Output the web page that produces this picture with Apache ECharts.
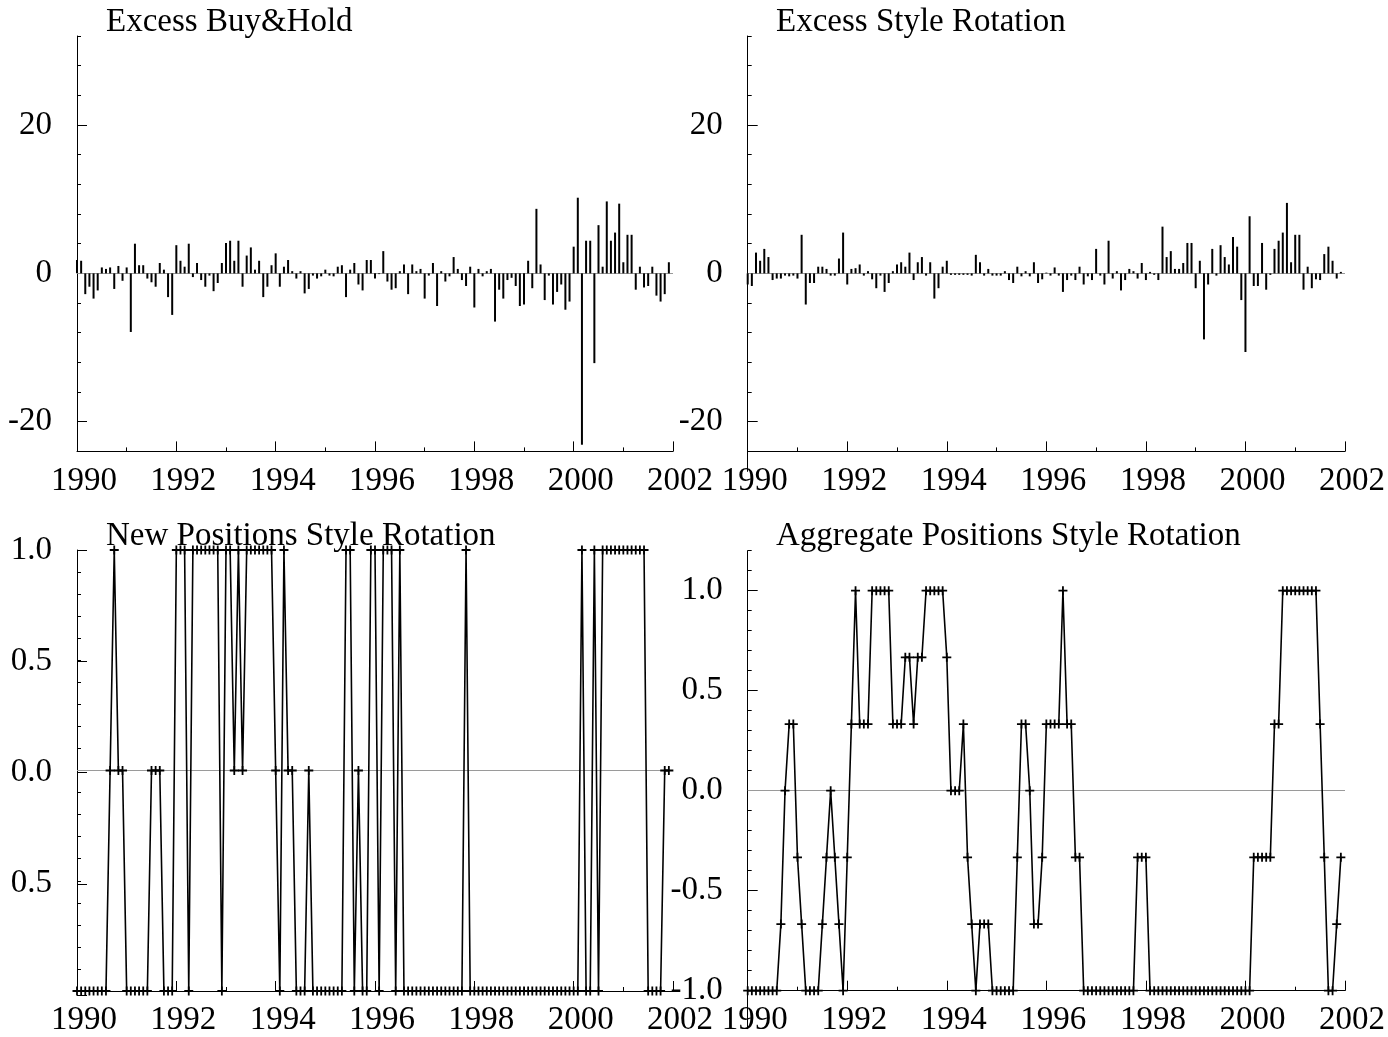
<!DOCTYPE html>
<html>
<head>
<meta charset="utf-8">
<script src="https://cdn.jsdelivr.net/npm/echarts@6/dist/echarts.min.js"></script>
<style>html,body{margin:0;padding:0;background:#fff}#c{width:1388px;height:1037px}</style>
</head>
<body>
<div id="c"></div>
<script>
// ---------------- data (monthly, Jan 1990 .. Dec 2001) ----------------
const startYear = 1990;
const titles = ['Excess Buy&Hold', 'Excess Style Rotation', 'New Positions Style Rotation', 'Aggregate Positions Style Rotation'];
const xTickLabels = ['1990', '1992', '1994', '1996', '1998', '2000', '2002'];
const topYTickLabels = ['-20', '0', '20'];
const newYTickLabels = ['', '0.5', '0.0', '0.5', '1.0'];
const aggYTickLabels = ['-1.0', '-0.5', '0.0', '0.5', '1.0'];

const excessBuyHold = [
  1.8, 1.7, -2.8, -1.8, -3.4, -2.3, 0.8, 0.6, 0.8, -2.1,
  1.0, -1.0, 0.8, -7.9, 4.0, 1.1, 1.1, -0.7, -1.2, -1.8,
  1.4, 0.5, -3.2, -5.6, 3.8, 1.7, 0.9, 4.0, -0.5, 1.4,
  -0.9, -1.8, -0.3, -2.4, -1.3, 1.4, 4.1, 4.4, 1.7, 4.4,
  -1.8, 2.4, 3.5, 0.5, 1.7, -3.2, -1.8, 1.1, 2.7, -1.8,
  0.9, 1.8, 0.3, -0.7, 0.3, -2.7, -2.1, -0.3, -0.7, -0.4,
  0.5, -0.3, -0.4, 0.9, 1.1, -3.2, 0.5, 1.4, -1.5, -2.3,
  1.8, 1.8, -0.7, -0.1, 3.0, -1.1, -2.2, -2.0, 0.3, 1.2,
  -2.8, 1.2, 0.3, 0.6, -3.4, -0.3, 1.4, -4.4, 0.3, -1.1,
  -0.4, 2.2, 0.6, -0.9, -1.7, 0.9, -4.6, 0.6, -0.4, 0.3,
  0.6, -6.5, -2.2, -3.4, -0.9, -0.6, -1.7, -4.4, -4.2, 1.7,
  -2.0, 8.7, 1.2, -3.6, -0.3, -4.2, -2.5, -1.5, -4.9, -3.8,
  3.6, 10.2, -23.1, 4.4, 4.4, -12.1, 6.5, 0.9, 9.7, 4.4,
  5.5, 9.4, 1.5, 5.2, 5.2, -2.2, 0.9, -1.9, -1.7, 0.9,
  -3.0, -3.8, -2.8, 1.5
];

const excessStyleRotation = [
  -1.5, -1.7, 2.8, 1.7, 3.3, 2.2, -0.9, -0.7, -0.7, -0.3,
  -0.4, -0.3, -0.7, 5.2, -4.2, -1.3, -1.3, 0.9, 0.9, 0.6,
  -0.3, -0.3, 2.0, 5.5, -1.5, 0.6, 0.7, 1.2, -0.3, 0.3,
  -0.8, -2.0, -0.3, -2.5, -1.3, 0.3, 1.2, 1.5, 0.9, 2.8,
  -0.9, 1.5, 2.2, -0.3, 1.5, -3.4, -2.0, 0.9, 1.7, -0.2,
  -0.2, -0.2, -0.2, -0.2, -0.3, 2.5, 1.5, -0.3, 0.6, -0.3,
  -0.3, -0.3, 0.3, -0.9, -1.3, 0.9, -0.4, 0.3, -0.4, 1.5,
  -1.3, -0.8, 0.1, -0.3, 0.8, -0.3, -2.5, -0.9, -0.3, -0.9,
  0.9, -1.5, -0.4, -0.9, 3.3, -0.3, -1.5, 4.4, -0.7, 0.3,
  -2.3, -0.9, 0.6, 0.3, -0.7, 1.4, -0.9, 0.2, -0.2, -0.9,
  6.3, 2.2, 3.0, 0.6, 0.6, 1.4, 4.1, 4.1, -2.0, 1.7,
  -8.9, -1.5, 3.3, -0.3, 3.8, 2.2, 1.2, 4.9, 3.6, -3.6,
  -10.6, 7.7, -1.7, -1.7, 4.1, -2.2, -0.2, 3.3, 4.4, 5.5,
  9.5, 1.5, 5.2, 5.2, -2.2, 0.9, -2.0, -0.8, -0.9, 2.6,
  3.6, 1.7, -0.7, 0.2
];

const newPositions = [
  -1, -1, -1, -1, -1, -1, -1, -1, 0, 1,
  0, 0, -1, -1, -1, -1, -1, -1, 0, 0,
  0, -1, -1, -1, 1, 1, 1, -1, 1, 1,
  1, 1, 1, 1, 1, -1, 1, 1, 0, 1,
  0, 1, 1, 1, 1, 1, 1, 1, 0, -1,
  1, 0, 0, -1, -1, -1, 0, -1, -1, -1,
  -1, -1, -1, -1, -1, 1, 1, -1, 0, -1,
  -1, 1, 1, -1, 1, 1, 1, -1, 1, -1,
  -1, -1, -1, -1, -1, -1, -1, -1, -1, -1,
  -1, -1, -1, -1, 1, -1, -1, -1, -1, -1,
  -1, -1, -1, -1, -1, -1, -1, -1, -1, -1,
  -1, -1, -1, -1, -1, -1, -1, -1, -1, -1,
  -1, -1, 1, -1, -1, 1, -1, 1, 1, 1,
  1, 1, 1, 1, 1, 1, 1, 1, -1, -1,
  -1, -1, 0, 0
];

const aggregatePositions = [
  -1, -1, -1, -1, -1, -1, -1, -1, -0.667, 0,
  0.333, 0.333, -0.333, -0.667, -1, -1, -1, -1, -0.667, -0.333,
  0, -0.333, -0.667, -1, -0.333, 0.333, 1, 0.333, 0.333, 0.333,
  1, 1, 1, 1, 1, 0.333, 0.333, 0.333, 0.667, 0.667,
  0.333, 0.667, 0.667, 1, 1, 1, 1, 1, 0.667, 0,
  0, 0, 0.333, -0.333, -0.667, -1, -0.667, -0.667, -0.667, -1,
  -1, -1, -1, -1, -1, -0.333, 0.333, 0.333, 0, -0.667,
  -0.667, -0.333, 0.333, 0.333, 0.333, 0.333, 1, 0.333, 0.333, -0.333,
  -0.333, -1, -1, -1, -1, -1, -1, -1, -1, -1,
  -1, -1, -1, -1, -0.333, -0.333, -0.333, -1, -1, -1,
  -1, -1, -1, -1, -1, -1, -1, -1, -1, -1,
  -1, -1, -1, -1, -1, -1, -1, -1, -1, -1,
  -1, -1, -0.333, -0.333, -0.333, -0.333, -0.333, 0.333, 0.333, 1,
  1, 1, 1, 1, 1, 1, 1, 1, 0.333, -0.333,
  -1, -1, -0.667, -0.333
];

// ---------------- styling / layout ----------------
const FONT = 'Liberation Serif';
const FS = 33;
const BLACK = '#000';
const ZERO_GRAY = '#9a9a9a';
const PLUS = 'path://M4,0H6V4H10V6H6V10H4V6H0V4H4Z';

const panels = [
  { left: 77,    top: 36,    width: 596, height: 415.4, min: -24, max: 32,  minorStep: 4,   majMin: -20, majMax: 20, majStep: 20,  labels: topYTickLabels, ext: 0,  titleLeft: 106, titleTop: 6 },
  { left: 747.7, top: 36,    width: 599, height: 415.4, min: -24, max: 32,  minorStep: 4,   majMin: -20, majMax: 20, majStep: 20,  labels: topYTickLabels, ext: 20, titleLeft: 776, titleTop: 6 },
  { left: 77,    top: 550,   width: 596, height: 445,   min: -1,  max: 1,   minorStep: 0.1, majMin: -1,  majMax: 1,  majStep: 0.5, labels: newYTickLabels, ext: 0,  titleLeft: 106, titleTop: 520 },
  { left: 747.7, top: 550.7, width: 599, height: 440,   min: -1,  max: 1.2, minorStep: 0.1, majMin: -1,  majMax: 1,  majStep: 0.5, labels: aggYTickLabels, ext: 38, titleLeft: 776, titleTop: 520 }
];
const seriesData = [excessBuyHold, excessStyleRotation, newPositions, aggregatePositions];
const seriesKind = ['bar', 'bar', 'line', 'line'];

const toPairs = arr => arr.map((v, m) => [startYear + m / 12, v]);

const grid = [], xAxis = [], yAxis = [], series = [], title = [];
const lineSt = { color: BLACK, width: 1 };

function hiddenX(gi) {
  return { type: 'value', gridIndex: gi, min: 0, max: 1, show: false };
}

panels.forEach((p, i) => {
  const span = p.max - p.min;
  const yPix = v => p.top + (p.max - v) / span * p.height;

  // main grid: data, x axis, minor y ticks
  const gMain = grid.length;
  grid.push({ left: p.left, top: p.top, width: p.width, height: p.height });
  xAxis.push({
    type: 'value', gridIndex: gMain, min: 1990, max: 2002, interval: 2,
    axisLine: { show: true, onZero: false, lineStyle: lineSt },
    axisTick: { show: true, inside: true, length: 10, lineStyle: lineSt },
    minorTick: { show: true, splitNumber: 2, length: 4, lineStyle: lineSt },
    axisLabel: {
      show: true, fontFamily: FONT, fontSize: FS, color: BLACK, margin: 13,
      padding: [0, 0, 0, 14],
      formatter: v => xTickLabels[Math.round((v - 1990) / 2)] || ''
    },
    splitLine: { show: false }, minorSplitLine: { show: false }
  });
  yAxis.push({
    type: 'value', gridIndex: gMain, min: p.min, max: p.max, interval: p.minorStep,
    axisLine: { show: p.ext === 0, onZero: false, lineStyle: lineSt },
    axisTick: { show: true, inside: true, length: 4, lineStyle: lineSt },
    axisLabel: { show: false },
    splitLine: { show: false }
  });

  // overlay grid: major ticks + labels
  const gMaj = grid.length;
  const t = yPix(p.majMax), b = yPix(p.majMin);
  grid.push({ left: p.left, top: t, width: p.width, height: b - t });
  xAxis.push(hiddenX(gMaj));
  yAxis.push({
    type: 'value', gridIndex: gMaj, min: p.majMin, max: p.majMax, interval: p.majStep,
    axisLine: { show: false, onZero: false },
    axisTick: { show: true, inside: true, length: 10, lineStyle: lineSt },
    axisLabel: {
      show: true, fontFamily: FONT, fontSize: FS, color: BLACK, margin: 25,
      formatter: v => p.labels[Math.round((v - p.majMin) / p.majStep)]
    },
    splitLine: { show: false }
  });

  // extended y axis line (right panels)
  if (p.ext > 0) {
    const gExt = grid.length;
    grid.push({ left: p.left, top: p.top, width: p.width, height: p.height + p.ext });
    xAxis.push(hiddenX(gExt));
    yAxis.push({
      type: 'value', gridIndex: gExt, min: 0, max: 1,
      axisLine: { show: true, onZero: false, lineStyle: lineSt },
      axisTick: { show: false }, axisLabel: { show: false }, splitLine: { show: false }
    });
  }

  const zeroLine = {
    silent: true, symbol: ['none', 'none'], label: { show: false }, z: 1,
    lineStyle: { color: ZERO_GRAY, width: 1, type: 'solid' },
    emphasis: { disabled: true },
    data: [{ yAxis: 0 }]
  };

  if (seriesKind[i] === 'bar') {
    series.push({
      type: 'bar', xAxisIndex: gMain, yAxisIndex: gMain,
      data: toPairs(seriesData[i]), barWidth: 2,
      itemStyle: { color: BLACK }, markLine: zeroLine, z: 3
    });
  } else {
    series.push({
      type: 'line', xAxisIndex: gMain, yAxisIndex: gMain,
      data: toPairs(seriesData[i]),
      symbol: PLUS, symbolSize: 9, showAllSymbol: true,
      itemStyle: { color: BLACK },
      lineStyle: { color: BLACK, width: 1.6 },
      markLine: zeroLine, z: 3
    });
  }

  title.push({
    text: titles[i], left: p.titleLeft, top: p.titleTop, padding: 0,
    textStyle: { fontFamily: FONT, fontSize: FS, fontWeight: 'normal', color: BLACK }
  });
});

const chart = echarts.init(document.getElementById('c'), null, { renderer: 'canvas' });
chart.setOption({
  backgroundColor: '#fff',
  animation: false,
  title, grid, xAxis, yAxis, series
});
</script>
</body>
</html>
